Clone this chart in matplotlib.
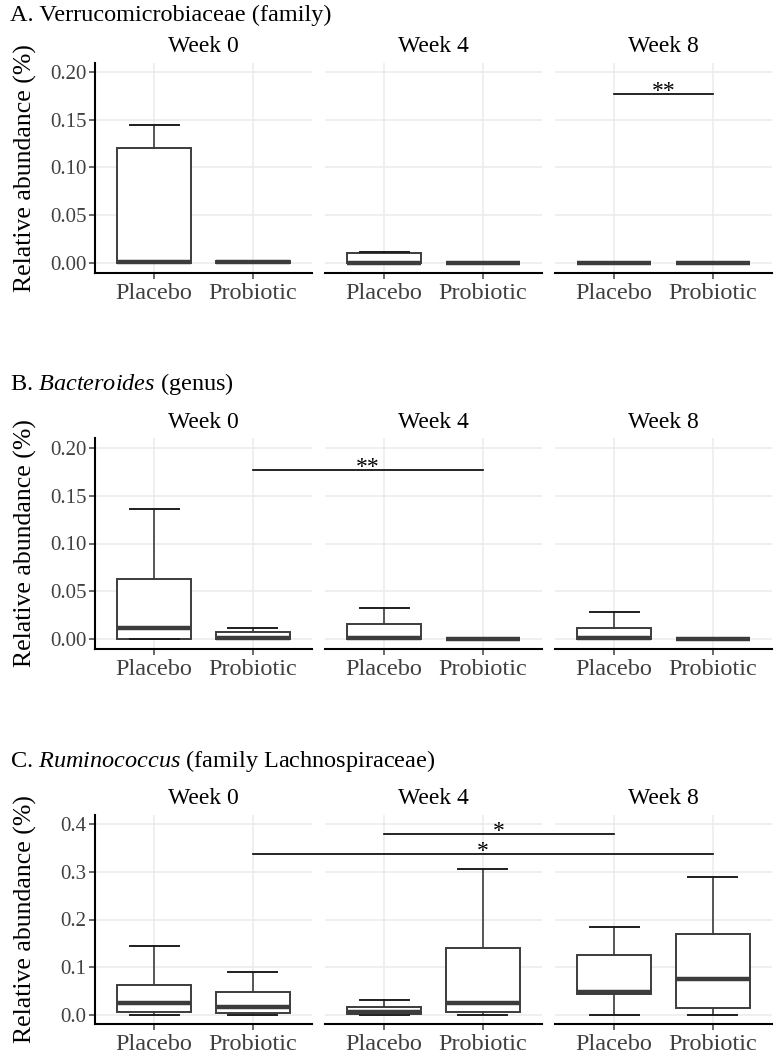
import matplotlib
matplotlib.use("Agg")
from matplotlib import pyplot as plt
from matplotlib.lines import Line2D

plt.rcParams['font.family'] = ['Liberation Serif', 'DejaVu Serif']
plt.rcParams['mathtext.fontset'] = 'custom'
plt.rcParams['mathtext.rm'] = 'Liberation Serif'
plt.rcParams['mathtext.it'] = 'Liberation Serif:italic'

W, H = 774, 1054
DPI = 100

weeks = ["Week 0", "Week 4", "Week 8"]
groups = ["Placebo", "Probiotic"]

# box statistics, order: (W0 Pla, W0 Pro, W4 Pla, W4 Pro, W8 Pla, W8 Pro)
a_title = "A. Verrucomicrobiaceae (family)"
a_lo = [0, 0, 0, 0, 0, 0]
a_q1 = [0, 0, 0, 0, 0, 0]
a_med = [0.001, 0.0005, 0, 0, 0, 0]
a_q3 = [0.120, 0.002, 0.010, 0, 0, 0]
a_hi = [0.145, 0.002, 0.011, 0, 0, 0]
a_sig = [(("Week 8", "Placebo"), ("Week 8", "Probiotic"), 0.177, "**")]

b_title = r"B. $\mathit{Bacteroides}$ (genus)"
b_lo = [0, 0, 0, 0, 0, 0]
b_q1 = [0, 0, 0, 0, 0, 0]
b_med = [0.011, 0.001, 0.001, 0, 0.001, 0]
b_q3 = [0.063, 0.007, 0.016, 0, 0.012, 0]
b_hi = [0.136, 0.012, 0.032, 0, 0.028, 0]
b_sig = [(("Week 0", "Probiotic"), ("Week 4", "Probiotic"), 0.177, "**")]

c_title = r"C. $\mathit{Ruminococcus}$ (family Lachnospiraceae)"
c_lo = [0, 0, 0, 0, 0, 0]
c_q1 = [0.007, 0.004, 0.002, 0.006, 0.043, 0.015]
c_med = [0.025, 0.016, 0.006, 0.025, 0.048, 0.075]
c_q3 = [0.063, 0.049, 0.017, 0.141, 0.125, 0.170]
c_hi = [0.144, 0.090, 0.032, 0.305, 0.185, 0.288]
c_sig = [(("Week 4", "Placebo"), ("Week 8", "Placebo"), 0.379, "*"),
         (("Week 0", "Probiotic"), ("Week 8", "Probiotic"), 0.337, "*")]

a_ticks = [0.00, 0.05, 0.10, 0.15, 0.20]
c_ticks = [0.0, 0.1, 0.2, 0.3, 0.4]

panels = [
    dict(title=a_title, stats=(a_lo, a_q1, a_med, a_q3, a_hi), sig=a_sig,
         ticks=a_ticks, fmt="{:.2f}", ylim=(-0.0105, 0.2094),
         top=63, bottom=273, title_y=15),
    dict(title=b_title, stats=(b_lo, b_q1, b_med, b_q3, b_hi), sig=b_sig,
         ticks=a_ticks, fmt="{:.2f}", ylim=(-0.0105, 0.2105),
         top=438, bottom=649, title_y=384),
    dict(title=c_title, stats=(c_lo, c_q1, c_med, c_q3, c_hi), sig=c_sig,
         ticks=c_ticks, fmt="{:.1f}", ylim=(-0.0188, 0.4188),
         top=815, bottom=1024, title_y=761),
]

facet_x = [(95, 312), (325, 542), (555, 772)]

box_col = '#3c3c3c'
grid_col = '#ebebeb'
tick_col = '#404040'

fig = plt.figure(figsize=(W / DPI, H / DPI), dpi=DPI)


def bracket(ax1, x1, ax2, x2, y, label):
    inv = fig.transFigure.inverted()
    p1 = inv.transform(ax1.transData.transform((x1, y)))
    p2 = inv.transform(ax2.transData.transform((x2, y)))
    fig.add_artist(Line2D([p1[0], p2[0]], [p1[1], p2[1]],
                          transform=fig.transFigure, color='black', lw=1.2))
    fig.text((p1[0] + p2[0]) / 2, p1[1] - 3 / H, label, ha='center',
             va='baseline', fontsize=17, color='black')


for p in panels:
    lo, q1, med, q3, hi = p['stats']
    axes = {}
    for i, wk in enumerate(weeks):
        x0, x1 = facet_x[i]
        ax = fig.add_axes([x0 / W, 1 - p['bottom'] / H, (x1 - x0) / W,
                           (p['bottom'] - p['top']) / H])
        axes[wk] = ax
        stats = []
        for j, g in enumerate(groups):
            k = i * 2 + j
            stats.append(dict(whislo=lo[k], q1=q1[k], med=med[k], q3=q3[k],
                              whishi=hi[k], fliers=[], label=g))
        ax.bxp(stats, positions=[1, 2], widths=0.75, capwidths=0.5,
               showfliers=False, patch_artist=True,
               boxprops=dict(facecolor='white', edgecolor=box_col, lw=1.4),
               medianprops=dict(color=box_col, lw=3.2, solid_capstyle='butt'),
               whiskerprops=dict(color=box_col, lw=1.2),
               capprops=dict(color='#1e1e1e', lw=1.4), zorder=3)
        ax.set_xlim(0.4, 2.6)
        ax.set_ylim(*p['ylim'])
        ax.set_xticks([1, 2])
        ax.set_xticklabels(groups, fontsize=17.5, color=tick_col)
        ax.set_yticks(p['ticks'])
        ax.grid(True, color=grid_col, lw=1.1, zorder=0)
        ax.set_axisbelow(True)
        for s in ['top', 'right']:
            ax.spines[s].set_visible(False)
        ax.spines['bottom'].set_linewidth(1.5)
        ax.spines['left'].set_linewidth(1.5)
        ax.tick_params(axis='x', length=4, width=1.1, color=tick_col, pad=3)
        if i == 0:
            ax.set_yticklabels([p['fmt'].format(t) for t in p['ticks']],
                               fontsize=15, color=tick_col)
            ax.tick_params(axis='y', length=4, width=1.1, color=tick_col, pad=2)
            ax.set_ylabel("Relative abundance (%)", fontsize=18.5)
            ax.yaxis.set_label_coords(-0.265, 0.5)
        else:
            ax.spines['left'].set_visible(False)
            ax.tick_params(axis='y', length=0, labelleft=False)
        ax.annotate(wk, xy=(0.5, 1), xycoords='axes fraction',
                    xytext=(0, 16 * 0.72), textcoords='offset points',
                    ha='center', va='center', fontsize=17)
    fig.text(10 / W, 1 - p['title_y'] / H, p['title'], ha='left',
             va='center', fontsize=17.5)
    for (w1, g1), (w2, g2), y, lab in p['sig']:
        bracket(axes[w1], groups.index(g1) + 1, axes[w2],
                groups.index(g2) + 1, y, lab)

fig.savefig("out.png", dpi=DPI)
